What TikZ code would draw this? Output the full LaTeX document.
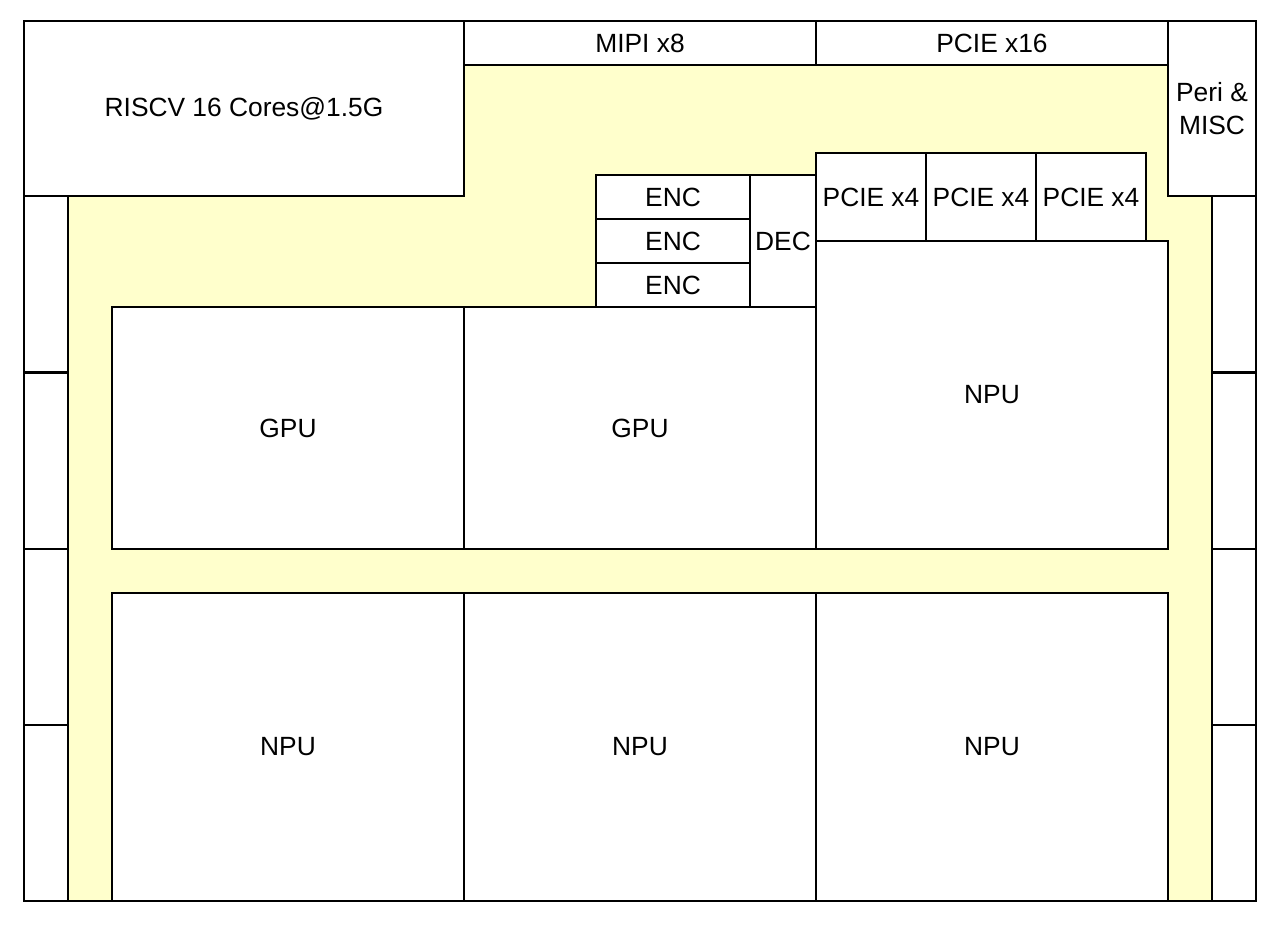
\documentclass[tikz,border=0pt]{standalone}
\usepackage{fontspec}
\setmainfont{Liberation Sans}
\definecolor{die}{HTML}{FFFFCC}
\begin{document}
\begin{tikzpicture}[x=0.02cm, y=-0.02cm, line width=1.1pt,
    blk/.style={draw=black, fill=white},
    lbl/.style={font=\fontsize{15}{18.5}\selectfont, align=center}]
	\useasboundingbox (0,0) rectangle (1277,925);
	% yellow die area
	\fill[die] (68,196) -- (464,196) -- (464,65) -- (1168,65) -- (1168,196) -- (1212,196) -- (1212,901) -- (68,901) -- cycle;
	\draw (24,21) rectangle (1256,901);
	
	\draw[blk] (24,21) rectangle (464,196) node[midway, lbl] (riscv) {RISCV 16 Cores@1.5G};
	\draw[blk] (464,21) rectangle (816,65) node[midway, lbl] (mipi) {MIPI x8};
	\draw[blk] (816,21) rectangle (1168,65) node[midway, lbl] (pcie16) {PCIE x16};
	\draw[blk] (1168,21) rectangle (1256,196) node[midway, lbl] (peri) {Peri \&\\MISC};
	
	% pads
	\foreach \y/\n in {196/1, 373/2, 549/3, 725/4} {
		\draw[blk] (24,\y) rectangle (68,\y+176) coordinate (padl\n);
		\draw[blk] (1212,\y) rectangle (1256,\y+176) coordinate (padr\n);
	}
	
	\foreach \y/\n in {175/1, 219/2, 263/3}
		\draw[blk] (596,\y) rectangle (750,\y+44) node[midway, lbl] (enc\n) {ENC};
	\draw[blk] (750,175) rectangle (816,307) node[midway, lbl] (dec) {DEC};
	\foreach \x/\n in {816/1, 926/2, 1036/3}
		\draw[blk] (\x,153) rectangle (\x+110,241) node[midway, lbl] (pcie\n) {PCIE x4};
	
	\draw[blk] (816,241) rectangle (1168,549) node[midway, lbl] (npu0) {NPU};
	\draw[blk] (112,307) rectangle (464,549) node[midway, lbl] (gpu1) {GPU};
	\draw[blk] (464,307) rectangle (816,549) node[midway, lbl] (gpu2) {GPU};
	\foreach \x/\n in {112/1, 464/2, 816/3}
		\draw[blk] (\x,593) rectangle (\x+352,901) node[midway, lbl] (npu\n) {NPU};
\end{tikzpicture}
\end{document}
